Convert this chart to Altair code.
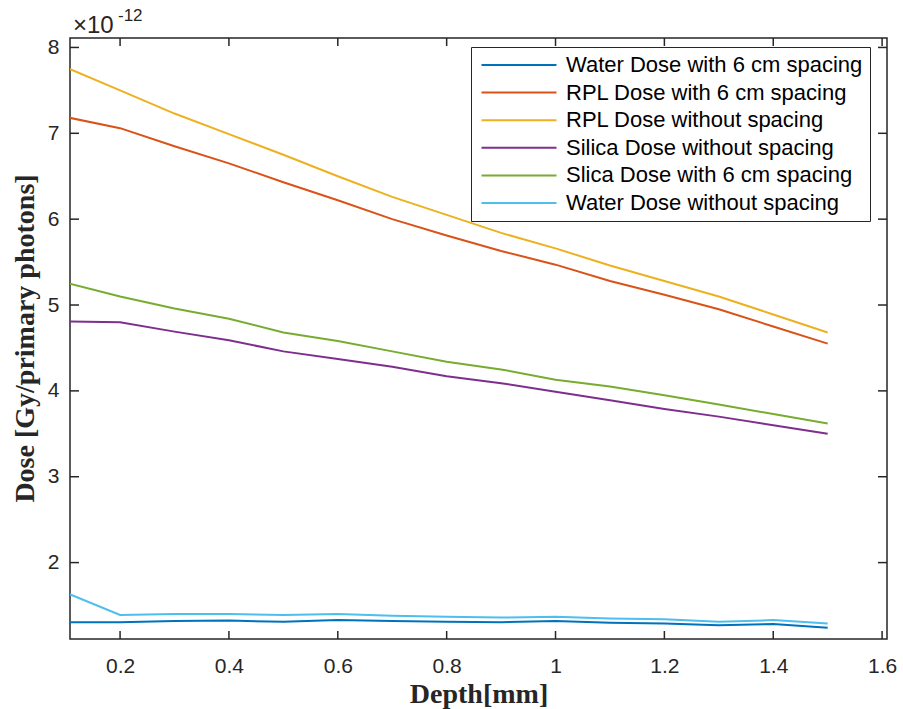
import altair as alt
import pandas as pd

# ---- data (dose in units of 1e-12 Gy/primary photon) ----
depth = [0.1, 0.2, 0.3, 0.4, 0.5, 0.6, 0.7, 0.8, 0.9, 1.0, 1.1, 1.2, 1.3, 1.4, 1.5]

series_names = [
    "Water Dose with 6 cm spacing",
    "RPL Dose with 6 cm spacing",
    "RPL Dose without spacing",
    "Silica Dose without spacing",
    "Slica Dose with 6 cm spacing",
    "Water Dose without spacing",
]
series_colors = ["#0072BD", "#D95319", "#EDB120", "#7E2F8E", "#77AC30", "#4DBEEE"]

water_6cm = [1.305, 1.305, 1.32, 1.325, 1.31, 1.33, 1.32, 1.31, 1.305, 1.32, 1.30, 1.29, 1.27, 1.285, 1.24]
rpl_6cm = [7.19, 7.06, 6.85, 6.65, 6.43, 6.22, 6.00, 5.81, 5.63, 5.47, 5.28, 5.12, 4.95, 4.75, 4.55]
rpl_no = [7.77, 7.50, 7.23, 6.99, 6.75, 6.50, 6.26, 6.05, 5.84, 5.66, 5.46, 5.28, 5.10, 4.89, 4.68]
silica_no = [4.81, 4.80, 4.69, 4.59, 4.46, 4.37, 4.28, 4.17, 4.09, 3.99, 3.89, 3.79, 3.70, 3.60, 3.50]
silica_6cm = [5.26, 5.10, 4.96, 4.84, 4.68, 4.58, 4.46, 4.34, 4.25, 4.13, 4.05, 3.95, 3.84, 3.73, 3.62]
water_no = [1.65, 1.39, 1.40, 1.40, 1.39, 1.40, 1.38, 1.37, 1.36, 1.37, 1.35, 1.34, 1.31, 1.33, 1.29]

x_ticks = [0.2, 0.4, 0.6, 0.8, 1.0, 1.2, 1.4, 1.6]
y_ticks = [2, 3, 4, 5, 6, 7, 8]
exponent_base = ["×10"]
exponent_power = ["-12"]

all_series = [water_6cm, rpl_6cm, rpl_no, silica_no, silica_6cm, water_no]
rows = []
for order, (name, vals) in enumerate(zip(series_names, all_series)):
    for d, v in zip(depth, vals):
        rows.append({"Depth": d, "Dose": v, "Series": name, "order": order})
df = pd.DataFrame(rows)

W, H = 817, 601
AX = "#262626"
xs = alt.Scale(domain=[0.108, 1.609], nice=False, zero=False)
ys = alt.Scale(domain=[1.11, 8.11], nice=False, zero=False)

x_axis = alt.Axis(
    values=x_ticks, format="~g", ticks=False, domain=False, grid=False,
    labelFont="Liberation Sans", labelFontSize=21, labelColor=AX, labelPadding=16,
    title="Depth[mm]", titleFont="Liberation Serif", titleFontSize=28,
    titleFontWeight="bold", titleColor=AX, titlePadding=4,
)
y_axis = alt.Axis(
    values=y_ticks, format="d", ticks=False, domain=False, grid=False,
    labelFont="Liberation Sans", labelFontSize=21, labelColor=AX, labelPadding=11,
    title="Dose [Gy/primary photons]", titleFont="Liberation Serif", titleFontSize=28,
    titleFontWeight="bold", titleColor=AX, titleX=-37, titleY=300,
    titleBaseline="alphabetic", titleAlign="center", titleAngle=270,
)

lines = alt.Chart(df).mark_line(strokeWidth=2, clip=True).encode(
    x=alt.X("Depth:Q", scale=xs, axis=x_axis),
    y=alt.Y("Dose:Q", scale=ys, axis=y_axis),
    color=alt.Color(
        "Series:N",
        scale=alt.Scale(domain=series_names, range=series_colors),
        legend=alt.Legend(
            orient="none", legendX=401, legendY=9, title=None,
            symbolType="M-1,0H9", symbolSize=225, symbolStrokeWidth=2,
            labelOffset=66, labelFont="Liberation Sans", labelFontSize=22,
            labelColor="black", labelLimit=0, padding=7, rowPadding=5.6,
            strokeColor=AX, fillColor="white", cornerRadius=0,
        ),
    ),
    order=alt.Order("order:Q"),
)

xt = pd.DataFrame({"Depth": x_ticks})
yt = pd.DataFrame({"Dose": y_ticks})

bottom_ticks = alt.Chart(xt).mark_rule(color=AX, strokeWidth=1.5).encode(
    x=alt.X("Depth:Q", scale=xs, axis=x_axis), y=alt.value(H), y2=alt.value(H - 8))
top_ticks = alt.Chart(xt).mark_rule(color=AX, strokeWidth=1.5).encode(
    x=alt.X("Depth:Q", scale=xs, axis=x_axis), y=alt.value(0), y2=alt.value(8))
left_ticks = alt.Chart(yt).mark_rule(color=AX, strokeWidth=1.5).encode(
    y=alt.Y("Dose:Q", scale=ys, axis=y_axis), x=alt.value(0), x2=alt.value(9))
right_ticks = alt.Chart(yt).mark_rule(color=AX, strokeWidth=1.5).encode(
    y=alt.Y("Dose:Q", scale=ys, axis=y_axis), x=alt.value(W), x2=alt.value(W - 9))

exp_base = alt.Chart(pd.DataFrame({"t": exponent_base})).mark_text(
    align="left", baseline="alphabetic", font="Liberation Sans", fontSize=24, color=AX
).encode(text="t:N", x=alt.value(3), y=alt.value(-5))
exp_pow = alt.Chart(pd.DataFrame({"t": exponent_power})).mark_text(
    align="left", baseline="alphabetic", font="Liberation Sans", fontSize=17, color=AX
).encode(text="t:N", x=alt.value(48), y=alt.value(-17))

chart = alt.layer(
    lines, bottom_ticks, top_ticks, left_ticks, right_ticks, exp_base, exp_pow
).properties(
    width=W, height=H,
    autosize=alt.AutoSizeParams(type="none"),
    padding={"left": 70, "top": 38, "right": 16, "bottom": 70},
    background="white",
).configure_view(stroke=AX, strokeWidth=1.5)

chart.save("out.html", embed_options={"renderer": "svg", "actions": False})
